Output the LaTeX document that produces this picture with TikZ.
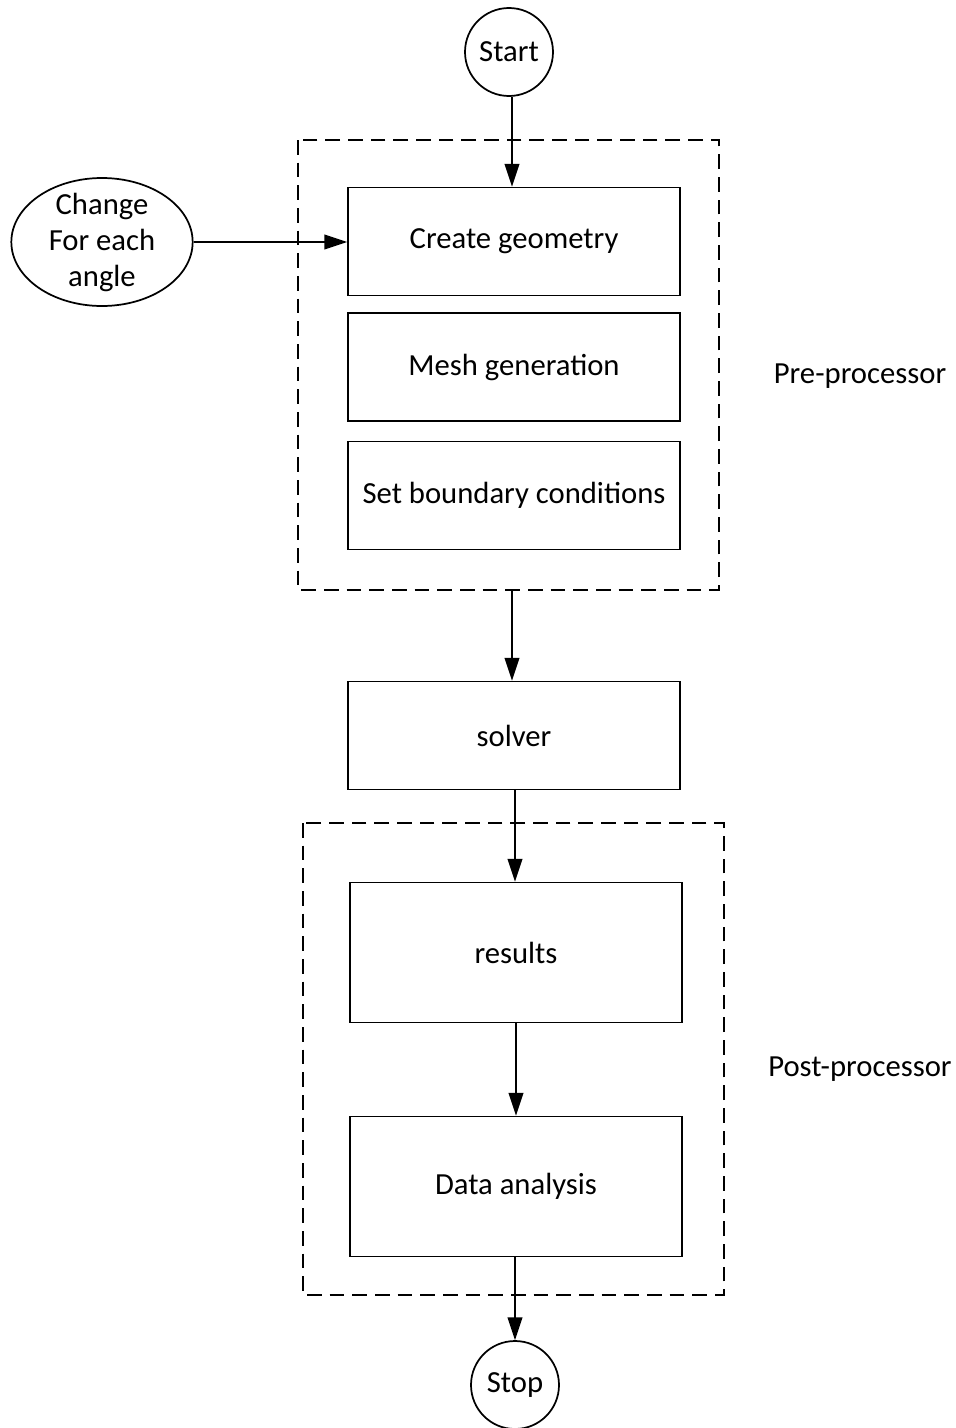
\documentclass[tikz,border=0pt]{standalone}
\usepackage{fontspec}
\setmainfont{Carlito}
\usetikzlibrary{arrows.meta,shapes.geometric}
\begin{document}
\begin{tikzpicture}[x=0.75pt,y=-0.75pt,
  every node/.style={font=\fontsize{23}{27}\selectfont},
  proc/.style={draw,line width=1.3pt,minimum width=249pt,inner sep=0pt},
  term/.style={draw,circle,line width=1.3pt,minimum size=66pt,inner sep=0pt},
  grp/.style={draw,dashed,dash pattern=on 11pt off 6pt,line width=1.3pt},
  arr/.style={line width=1.3pt,-{Triangle[length=17pt,width=11pt]}},
  lbl/.style={}]
\useasboundingbox (0,0) rectangle (956,1428);
\node[term] (start) at (509,52) {Start};
\node[draw,ellipse,line width=1.3pt,minimum width=136pt,minimum height=96pt,inner xsep=0pt,inner ysep=-4pt,align=center] (chg) at (102,242) {Change\\For each\\angle};
\node[proc,minimum height=81pt] (cg) at (514,241.5) {Create geometry};
\node[proc,minimum height=81pt] (mg) at (514,367) {Mesh generation};
\node[proc,minimum height=81pt] (bc) at (514,495.5) {Set boundary conditions};
\draw[grp] (298,140) rectangle (719,590);
\coordinate (preb) at (512,590);
\node[lbl] (pre) at (860,376) {Pre-processor};
\node[proc,minimum height=81pt] (sol) at (514,735.5) {solver};
\draw[grp] (303,823) rectangle (724,1295);
\node[proc,minimum height=105pt] (res) at (516,952.5) {results};
\node[proc,minimum height=105pt] (da) at (516,1186.5) {Data analysis};
\node[lbl] (post) at (860,1069) {Post-processor};
\node[term] (stop) at (515,1385) {Stop};
\draw[arr] (start.south -| 512,0) -- (512,0 |- cg.north);
\draw[arr] (chg.east) -- (cg.west |- chg.east);
\draw[arr] (preb) -- (preb |- sol.north);
\draw[arr] (515,0 |- sol.south) -- (515,0 |- res.north);
\draw[arr] (res.south) -- (da.north);
\draw[arr] (da.south -| stop.north) -- (stop.north);
\end{tikzpicture}
\end{document}
